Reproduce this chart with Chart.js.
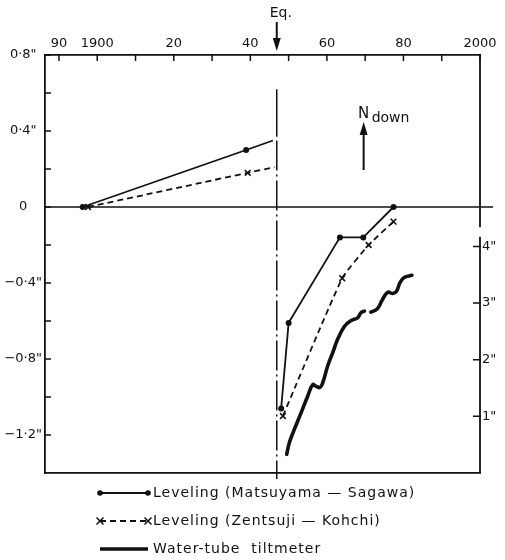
<!DOCTYPE html>
<html>
<head>
<meta charset="utf-8">
<script src="https://cdn.jsdelivr.net/npm/chart.js@4.4.1/dist/chart.umd.min.js"></script>
<style>
html, body { margin: 0; padding: 0; background: #fff; }
#wrap { width: 505px; height: 560px; position: relative; }
</style>
</head>
<body>
<div id="wrap"><canvas id="chart-data"></canvas></div>
<script>
// Leveling, Matsuyama - Sagawa (left axis, seconds of arc)
var yearsMS = [1896.2, 1938.9, 1945.9, 1947.0, 1948.05, 1950.0, 1963.4, 1969.5, 1977.4];
var tiltMS = [0, 0.30, 0.35, null, -1.06, -0.61, -0.16, -0.16, 0];
var dotsMS = [1, 1, 0, 0, 1, 1, 1, 1, 1];

// Leveling, Zentsuji - Kohchi
var yearsZK = [1897.6, 1939.3, 1946.3, 1947.0, 1948.5, 1964.0, 1970.9, 1977.4];
var tiltZK = [0, 0.18, 0.21, null, -1.10, -0.375, -0.20, -0.077];
var marksZK = [1, 1, 0, 0, 1, 1, 1, 1];

// Water-tube tiltmeter (right axis)
var yearsWT = [1949.5, 1950.2, 1951.5, 1953.3, 1955.0, 1956.3, 1957.2, 1958.2, 1958.9, 1960.2, 1961.5,
    1962.8, 1964.6, 1966.3, 1968.0, 1968.9, 1969.8, 1970.6, 1971.5, 1973.2, 1974.5, 1975.9, 1977.2,
    1978.2, 1979.1, 1980.2, 1982.2];
var tiltWT = [0.33, 0.54, 0.77, 1.07, 1.36, 1.56, 1.53, 1.51, 1.59, 1.89, 2.12,
    2.36, 2.59, 2.69, 2.74, 2.83, 2.86, null, 2.84, 2.90, 3.06, 3.19, 3.17,
    3.21, 3.36, 3.45, 3.49];

var quakeYear = 1946.9;

var xTicks = [1890, 1900, 1910, 1920, 1930, 1940, 1950, 1960, 1970, 1980, 1990, 2000];
var xLabels = { 1890: "90", 1900: "1900", 1920: "20", 1940: "40", 1960: "60", 1980: "80", 2000: "2000" };
var yTicks = [0.8, 0.6, 0.4, 0.2, 0, -0.2, -0.4, -0.6, -0.8, -1.0, -1.2];
var yLabels = { "0.8": "0·8\"", "0.4": "0·4\"", "0.0": "0", "-0.4": "−0·4\"", "-0.8": "−0·8\"", "-1.2": "−1·2\"" };
var y2Ticks = [1, 2, 3, 4];
var y2Labels = { 1: "1\"", 2: "2\"", 3: "3\"", 4: "4\"" };

var ink = "#111";

function pts(xs, ys) {
    return xs.map(function (x, i) { return { x: x, y: ys[i] }; });
}

function arrow(ctx, x, y1, y2) {
    // shaft from y1 to tip y2
    var dir = y2 > y1 ? 1 : -1;
    ctx.beginPath();
    ctx.moveTo(x, y1);
    ctx.lineTo(x, y2 - dir * 8);
    ctx.stroke();
    ctx.beginPath();
    ctx.moveTo(x, y2);
    ctx.lineTo(x - 4, y2 - dir * 13);
    ctx.lineTo(x + 4, y2 - dir * 13);
    ctx.closePath();
    ctx.fill();
}

var decor = {
    id: "decor",
    beforeDatasetsDraw: function (chart) {
        var ctx = chart.ctx, a = chart.chartArea;
        var y0 = chart.scales.y.getPixelForValue(0);
        ctx.save();
        ctx.strokeStyle = ink;
        ctx.lineWidth = 1.6;
        ctx.beginPath();
        ctx.moveTo(a.left, y0);
        ctx.lineTo(a.right + 13, y0);
        ctx.stroke();
        ctx.restore();
    },
    afterDraw: function (chart) {
        var ctx = chart.ctx, a = chart.chartArea;
        var xs = chart.scales.x, ys = chart.scales.y, y2s = chart.scales.y2;
        ctx.save();
        ctx.strokeStyle = ink;
        ctx.fillStyle = ink;
        ctx.lineWidth = 1.5;

        // inside tick marks
        ctx.beginPath();
        xs.ticks.forEach(function (t) {
            var px = xs.getPixelForValue(t.value);
            ctx.moveTo(px, a.top);
            ctx.lineTo(px, a.top + 6);
        });
        ys.ticks.forEach(function (t) {
            var py = ys.getPixelForValue(t.value);
            ctx.moveTo(a.left, py);
            ctx.lineTo(a.left + 6, py);
        });
        y2s.ticks.forEach(function (t) {
            var py = y2s.getPixelForValue(t.value);
            ctx.moveTo(a.right - 7, py);
            ctx.lineTo(a.right + 1, py);
        });
        ctx.stroke();

        // right frame, broken above the tiltmeter axis
        ctx.lineWidth = 1.8;
        ctx.beginPath();
        ctx.moveTo(a.right, a.top);
        ctx.lineTo(a.right, y2s.getPixelForValue(4.34));
        ctx.moveTo(a.right, y2s.getPixelForValue(4.17));
        ctx.lineTo(a.right, a.bottom);
        ctx.stroke();

        // earthquake line
        var qx = xs.getPixelForValue(quakeYear);
        ctx.lineWidth = 1.5;
        ctx.beginPath();
        ctx.moveTo(qx, ys.getPixelForValue(0.62));
        ctx.lineTo(qx, ys.getPixelForValue(0.37));
        ctx.stroke();
        ctx.setLineDash([30, 4, 2, 4]);
        ctx.beginPath();
        ctx.moveTo(qx, ys.getPixelForValue(0.35));
        ctx.lineTo(qx, a.bottom + 6);
        ctx.stroke();
        ctx.setLineDash([]);

        // "Eq." arrow
        ctx.lineWidth = 2;
        ctx.font = "14px 'DejaVu Sans'";
        ctx.textAlign = "center";
        ctx.textBaseline = "middle";
        ctx.fillText("Eq.", qx + 4, 13);
        arrow(ctx, qx, 22, a.top - 4);

        // "N down" arrow
        var nx = xs.getPixelForValue(1969.6);
        ctx.font = "15px 'DejaVu Sans'";
        ctx.fillText("N", nx, 114);
        ctx.font = "14px 'DejaVu Sans'";
        ctx.textAlign = "left";
        ctx.fillText("down", nx + 8, 118);
        arrow(ctx, nx, 170, 122);

        // legend
        var x1 = 100, x2 = 148;
        chart.data.datasets.forEach(function (ds, i) {
            var ly = a.bottom + 20 + i * 28;
            ctx.strokeStyle = ink;
            ctx.lineWidth = ds.borderWidth;
            ctx.setLineDash(ds.borderDash || []);
            ctx.beginPath();
            ctx.moveTo(x1, ly);
            ctx.lineTo(x2, ly);
            ctx.stroke();
            ctx.setLineDash([]);
            if (ds.pointStyle === "circle") {
                [x1, x2].forEach(function (px) {
                    ctx.beginPath();
                    ctx.arc(px, ly, 2.8, 0, Math.PI * 2);
                    ctx.fill();
                });
            } else if (ds.pointStyle === "crossRot") {
                ctx.lineWidth = 1.5;
                [x1, x2].forEach(function (px) {
                    ctx.beginPath();
                    ctx.moveTo(px - 3.5, ly - 3.5);
                    ctx.lineTo(px + 3.5, ly + 3.5);
                    ctx.moveTo(px + 3.5, ly - 3.5);
                    ctx.lineTo(px - 3.5, ly + 3.5);
                    ctx.stroke();
                });
            }
            ctx.font = "14px 'DejaVu Sans'";
            ctx.letterSpacing = "1px";
            ctx.textAlign = "left";
            ctx.textBaseline = "middle";
            ctx.fillText(ds.label, 153, ly);
            ctx.letterSpacing = "0px";
        });
        ctx.restore();
    }
};

var tickFont = { family: "'DejaVu Sans'", size: 13 };

var ctx = document.getElementById("chart-data").getContext("2d");
var chart = new Chart(ctx, {
    type: "line",
    data: {
        datasets: [
            {
                label: "Leveling (Matsuyama — Sagawa)",
                data: pts(yearsMS, tiltMS),
                borderColor: ink,
                backgroundColor: ink,
                borderWidth: 1.8,
                pointStyle: "circle",
                pointRadius: dotsMS.map(function (d) { return d ? 3 : 0; }),
                pointBackgroundColor: ink,
                pointBorderWidth: 0,
                tension: 0,
                spanGaps: false,
                yAxisID: "y",
            },
            {
                label: "Leveling (Zentsuji — Kohchi)",
                data: pts(yearsZK, tiltZK),
                borderColor: ink,
                backgroundColor: ink,
                borderWidth: 1.8,
                borderDash: [6, 4],
                pointStyle: "crossRot",
                pointRadius: marksZK.map(function (d) { return d ? 4 : 0; }),
                pointBorderColor: ink,
                pointBorderWidth: 1.6,
                tension: 0.15,
                spanGaps: false,
                yAxisID: "y",
            },
            {
                label: "Water-tube  tiltmeter",
                data: pts(yearsWT, tiltWT),
                borderColor: ink,
                borderWidth: 3.6,
                borderCapStyle: "round",
                pointRadius: 0,
                tension: 0.4,
                spanGaps: false,
                yAxisID: "y2",
            },
        ],
    },
    options: {
        responsive: true,
        maintainAspectRatio: false,
        animation: false,
        layout: { padding: { left: 0, right: 0, top: 0, bottom: 87 } },
        plugins: {
            legend: { display: false },
            tooltip: { enabled: false },
        },
        scales: {
            x: {
                type: "linear",
                position: "top",
                min: 1886.35,
                max: 2000,
                afterBuildTicks: function (s) { s.ticks = xTicks.map(function (v) { return { value: v }; }); },
                afterFit: function (s) { s.height = 55; },
                grid: { display: false, drawTicks: false },
                border: { display: true, color: ink, width: 1.8 },
                ticks: {
                    color: ink,
                    font: tickFont,
                    padding: 4,
                    autoSkip: false,
                    maxRotation: 0,
                    callback: function (v) { return xLabels[v] || ""; },
                },
            },
            xb: {
                type: "linear",
                position: "bottom",
                min: 1886.35,
                max: 2000,
                afterFit: function (s) { s.height = 0; },
                grid: { display: false, drawTicks: false },
                border: { display: true, color: ink, width: 1.8 },
                ticks: { display: false },
            },
            y: {
                type: "linear",
                position: "left",
                min: -1.4,
                max: 0.8,
                afterBuildTicks: function (s) { s.ticks = yTicks.map(function (v) { return { value: v }; }); },
                afterFit: function (s) { s.width = 45; },
                grid: { display: false, drawTicks: false },
                border: { display: true, color: ink, width: 1.8 },
                ticks: {
                    color: ink,
                    font: tickFont,
                    padding: 3,
                    autoSkip: false,
                    crossAlign: "center",
                    callback: function (v) { return yLabels[v.toFixed(1)] || ""; },
                },
            },
            y2: {
                type: "linear",
                position: "right",
                min: 0,
                max: 7.38,
                afterBuildTicks: function (s) { s.ticks = y2Ticks.map(function (v) { return { value: v }; }); },
                afterFit: function (s) { s.width = 25; },
                grid: { display: false, drawTicks: false },
                border: { display: false },
                ticks: {
                    color: ink,
                    font: tickFont,
                    padding: 2,
                    autoSkip: false,
                    callback: function (v) { return y2Labels[v] || ""; },
                },
            },
        },
    },
    plugins: [decor],
});
</script>
</body>
</html>
